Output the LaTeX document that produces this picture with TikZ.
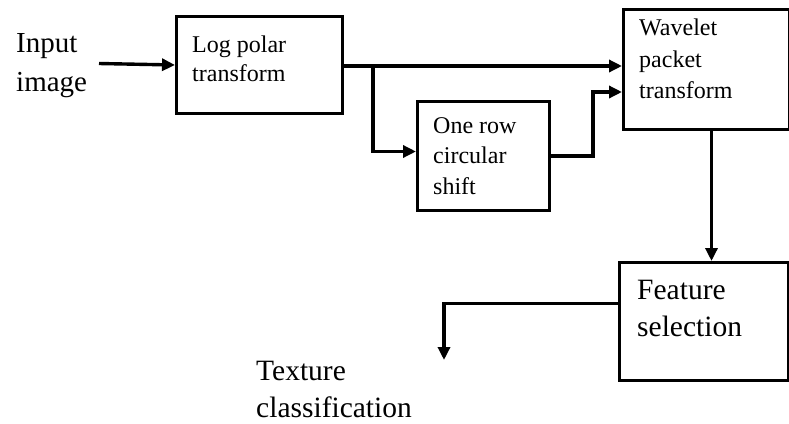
\documentclass[tikz,border=0pt]{standalone}
\usepackage{fontspec}
\setmainfont{Liberation Serif}
\usetikzlibrary{arrows.meta}
\tikzset{
  box/.style={draw, line width=3pt, inner sep=0pt, anchor=north west},
  arr/.style={line width=3.4pt, -{Triangle[length=13pt,width=12pt]}},
  lbl/.style={anchor=base west, inner sep=0pt, font=\fontsize{24pt}{28pt}\selectfont},
  biglbl/.style={anchor=base west, inner sep=0pt, font=\fontsize{29pt}{32pt}\selectfont},
  midlbl/.style={anchor=base west, inner sep=0pt, font=\fontsize{29.5pt}{32pt}\selectfont}
}
\begin{document}
\begin{tikzpicture}[x=1pt,y=-1pt]
\useasboundingbox (0,0) rectangle (789,423);
% boxes
\node[box, minimum width=166pt, minimum height=97pt] (lp) at (175,15) {};
\node[box, minimum width=132pt, minimum height=109pt] (ors) at (416,100) {};
\node[box, minimum width=166pt, minimum height=120pt] (wp) at (622,8) {};
\node[box, minimum width=169pt, minimum height=118pt] (fs) at (618,261) {};
% texts
\node[biglbl] (in1) at (16,52) {Input};
\node[biglbl] (in2) at (16,91) {image};
\node[lbl] (lp1) at (192,52) {Log polar};
\node[lbl] (lp2) at (192,81) {transform};
\node[lbl] (or1) at (433,133) {One row};
\node[lbl] (or2) at (433,163) {circular};
\node[lbl] (or3) at (433,194) {shift};
\node[lbl] (wp1) at (639,35) {Wavelet};
\node[lbl] (wp2) at (639,67) {packet};
\node[lbl] (wp3) at (639,98) {transform};
\node[midlbl] (fs1) at (637,299) {Feature};
\node[midlbl] (fs2) at (637,336) {selection};
\node[midlbl] (tc1) at (256,380) {Texture};
\node[midlbl] (tc2) at (256,417) {classification};
% connectors
\coordinate (inS) at (99,63.5);
\coordinate (j1) at (373,66);
\coordinate (j2) at (593,92);
\coordinate (tcE) at (444,360);
\draw[arr] (inS) -- (lp.west);
\draw[arr] (lp.east |- j1) -- (wp.west |- j1);
\draw[arr] (j1) |- ([yshift=4.5pt]ors.west);
\draw[arr] (ors.east) -| (j2) -- (wp.west |- j2);
\draw[arr] ([xshift=5pt]wp.south) -- ([xshift=5pt]wp.south |- fs.north);
\draw[arr] ([yshift=18pt]fs.west) -| (tcE);
\end{tikzpicture}
\end{document}
